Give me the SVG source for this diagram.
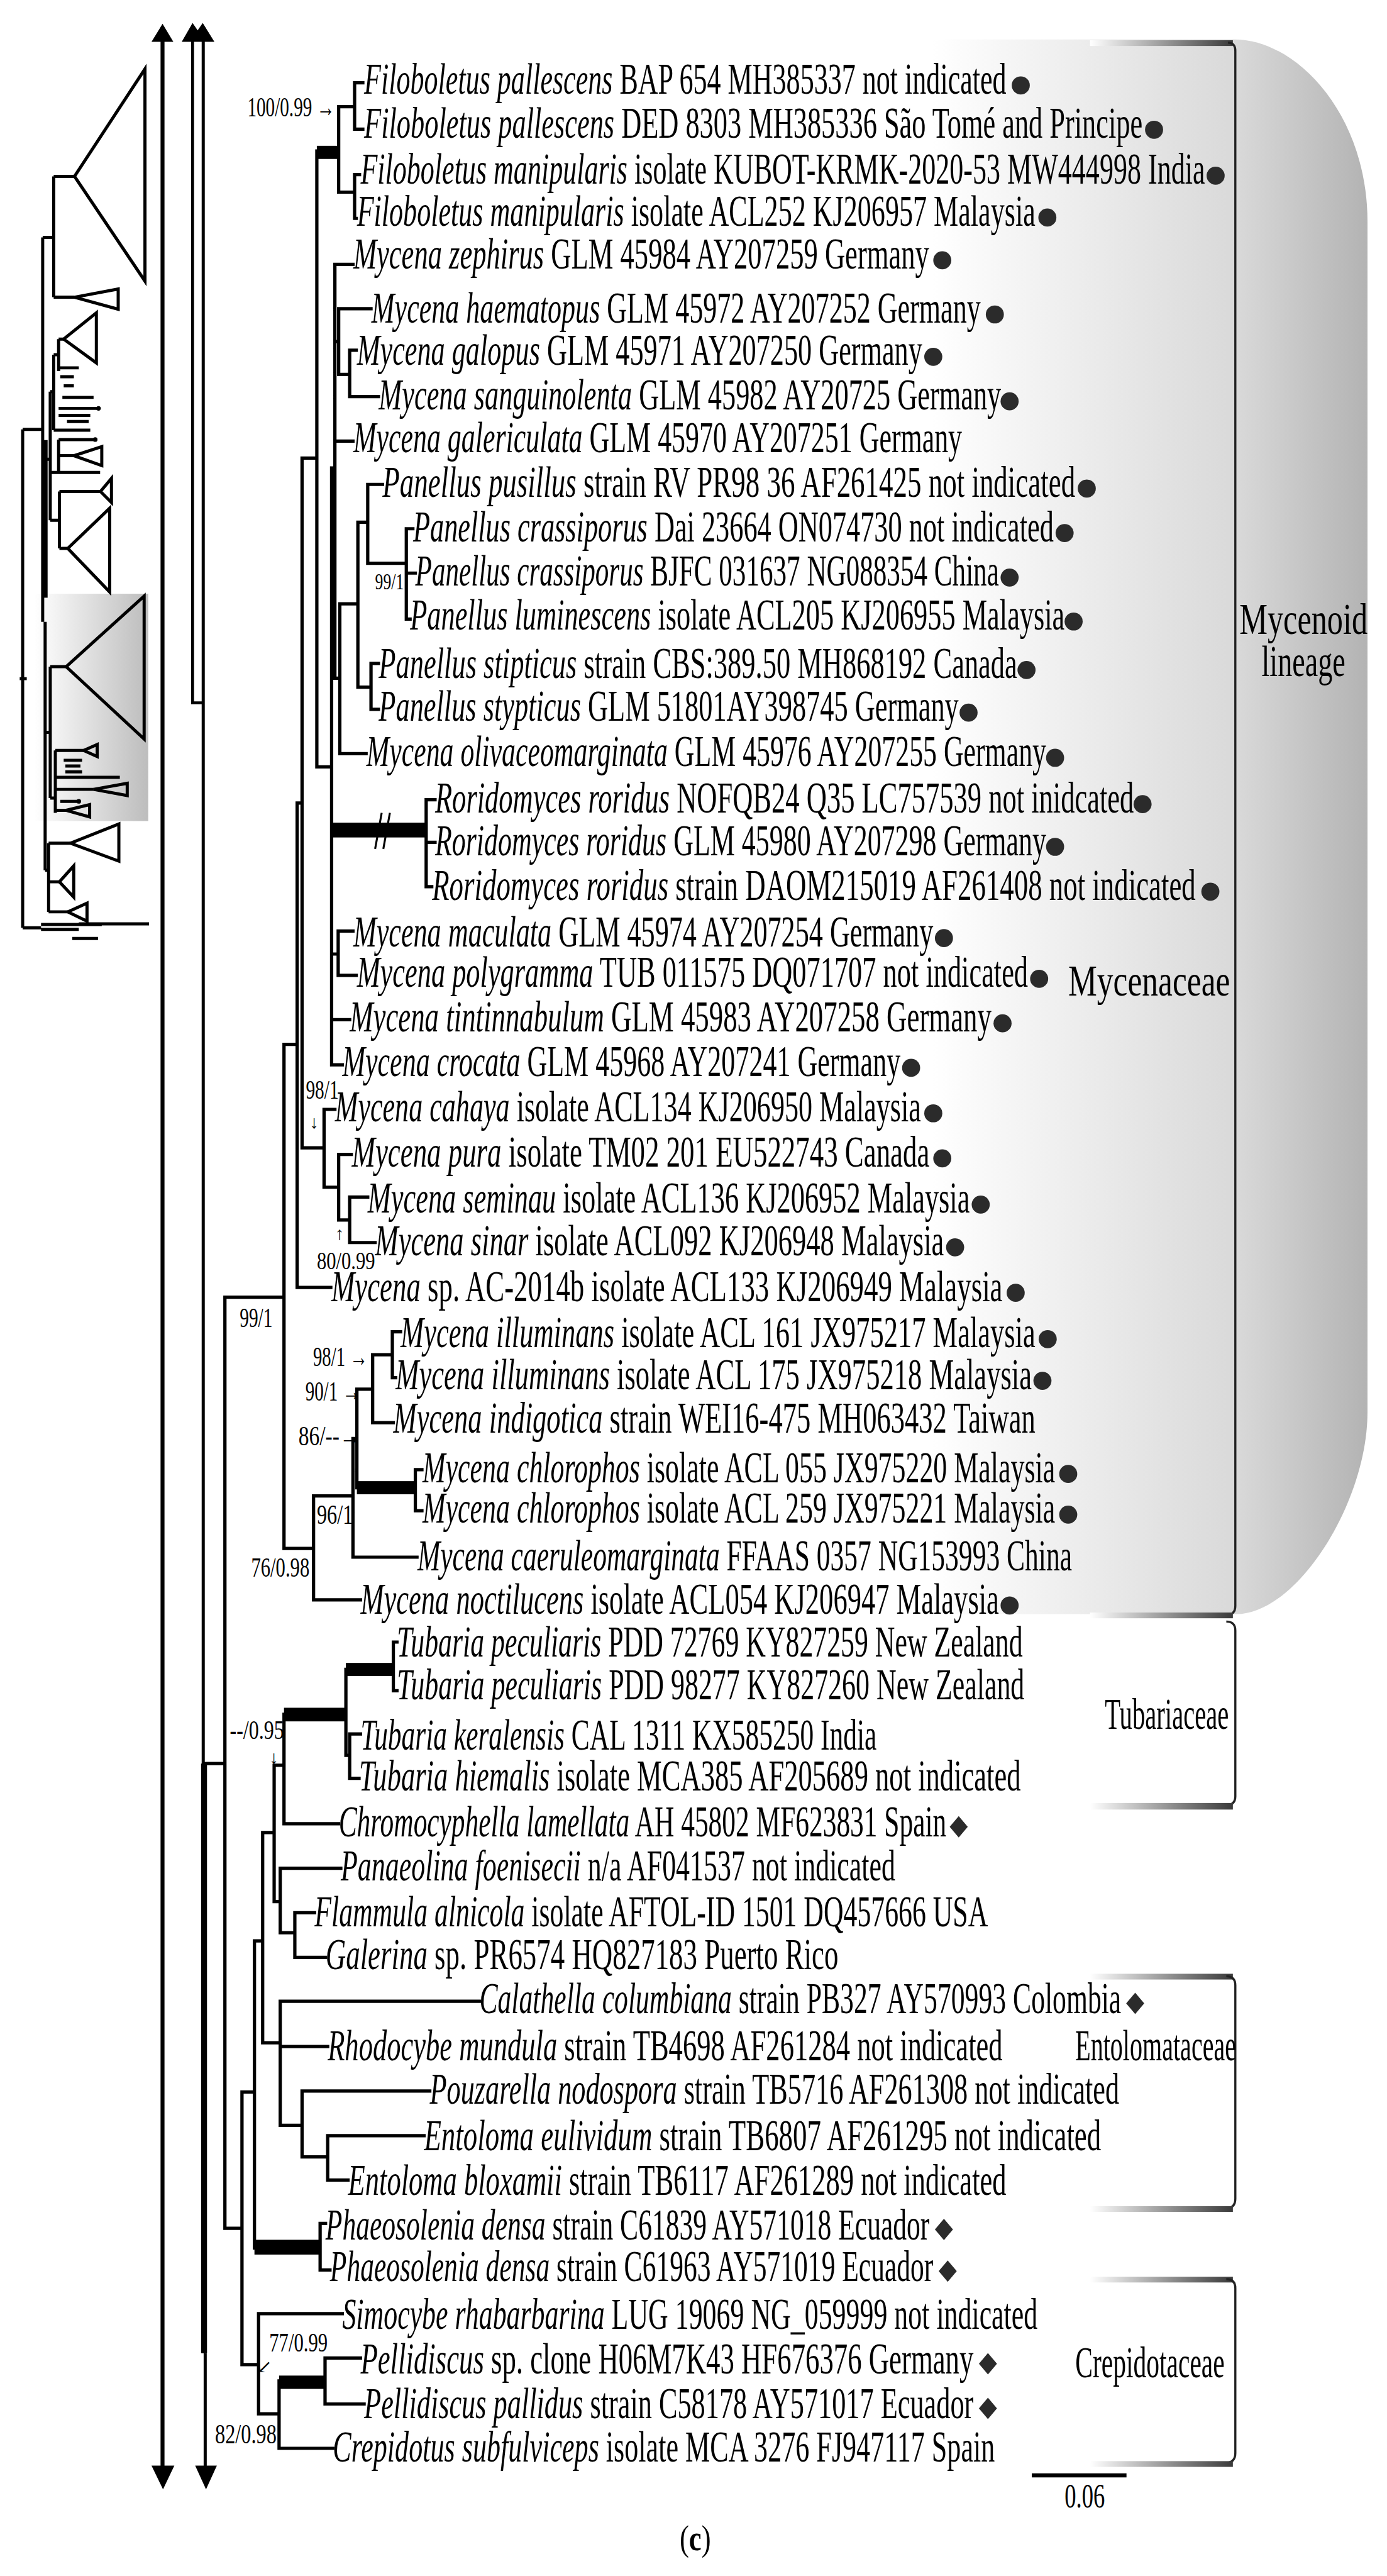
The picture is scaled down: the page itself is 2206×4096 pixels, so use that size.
<svg xmlns="http://www.w3.org/2000/svg" width="2206" height="4096" viewBox="0 0 2206 4096">
<defs>
<linearGradient id="gbox" gradientUnits="userSpaceOnUse" x1="548" y1="0" x2="833" y2="0">
<stop offset="0" stop-color="#ffffff"/><stop offset="0.07" stop-color="#ffffff"/><stop offset="0.72" stop-color="#d9d9d9"/><stop offset="1" stop-color="#b3b3b3"/>
</linearGradient>
<linearGradient id="arm" x1="0" y1="0" x2="1" y2="0"><stop offset="0" stop-color="#ffffff"/><stop offset="1" stop-color="#3a3a3a"/></linearGradient>
<linearGradient id="thumb" x1="0" y1="0" x2="1" y2="0"><stop offset="0" stop-color="#ffffff"/><stop offset="1" stop-color="#bdbdbd"/></linearGradient>
<style>
.t{font-family:"Liberation Serif","DejaVu Serif",serif;font-size:27px;fill:#000}
.i{font-style:italic}
.s{font-family:"Liberation Serif","DejaVu Serif",serif;font-size:17px;fill:#000}
.br{fill:none;stroke:#000;stroke-width:2;stroke-linecap:square}
.thk{fill:#000}
.d{fill:#2b2b2b}
.tb{fill:none;stroke:#000;stroke-width:1.9}
.cl{fill:none;stroke:#222;stroke-width:1.3}
.ar{fill:#000}
</style>
</defs>
<rect width="2206" height="4096" fill="#fff"/>
<g transform="scale(2.611)">

<!-- Mycenoid gray region -->
<path d="M 548 24 H 752 C 790 24 833 70 833 135 V 860 C 833 915 790 983 753 983 H 548 Z" fill="url(#gbox)"/>

<!-- clade brackets -->
<g id="brackets">
<rect x="664" y="24.5" width="87" height="3.5" fill="url(#arm)"/>
<path class="cl" d="M 748 26 Q 752.5 26 752.5 31 V 978 Q 752.5 983.5 747 983.5"/>
<rect x="664" y="982" width="87" height="3.5" fill="url(#arm)"/>
<path class="cl" d="M 747 987.5 Q 752.5 987.5 752.5 993 V 1094 Q 752.5 1099.5 746 1099.5"/>
<rect x="664" y="1098" width="87" height="4" fill="url(#arm)"/>
<rect x="664" y="1202" width="87" height="3.5" fill="url(#arm)"/>
<path class="cl" d="M 747 1203.5 Q 752.5 1203.5 752.5 1209 V 1339 Q 752.5 1345 746 1345"/>
<rect x="664" y="1343.5" width="87" height="3.5" fill="url(#arm)"/>
<rect x="664" y="1386.5" width="87" height="3.5" fill="url(#arm)"/>
<path class="cl" d="M 747 1388 Q 752.5 1388 752.5 1393.5 V 1494 Q 752.5 1500 746 1500"/>
<rect x="664" y="1498.8" width="87" height="3.5" fill="url(#arm)"/>
<text class="t" transform="translate(755 386) scale(0.71 1)" textLength="109.9" lengthAdjust="spacingAndGlyphs">Mycenoid</text>
<text class="t" transform="translate(768.5 411.7) scale(0.65 1)" textLength="78.5" lengthAdjust="spacingAndGlyphs">lineage</text>
<text class="t" transform="translate(650.7 606.2) scale(0.73 1)" textLength="135.1" lengthAdjust="spacingAndGlyphs">Mycenaceae</text>
<text class="t" transform="translate(673 1053) scale(0.57 1)" textLength="132.5" lengthAdjust="spacingAndGlyphs">Tubariaceae</text>
<text class="t" transform="translate(655 1254.8) scale(0.57 1)" textLength="171.9" lengthAdjust="spacingAndGlyphs">Entolomataceae</text>
<text class="t" transform="translate(655 1447.8) scale(0.59 1)" textLength="154.2" lengthAdjust="spacingAndGlyphs">Crepidotaceae</text>
</g>

<!-- thumbnail overview -->
<g id="overview">
<rect x="21" y="361.6" width="69.3" height="138.4" fill="url(#thumb)"/>
<g class="tb">
<polygon points="45.4,107.4 88.3,42 88.3,171.2"/>
<polygon points="45.4,181 72,176 72,188.3"/>
<polygon points="38.8,206.5 58.7,190.5 58.7,221"/>
<polygon points="61.2,299.3 67.9,291.3 67.9,306"/>
<polygon points="41.3,334 66.8,309.5 66.8,360.5"/>
<polygon points="40.3,406 87.8,363 87.8,450"/>
<polygon points="42.9,513.5 72.4,501.8 72.4,524.4"/>
<polygon points="36.2,537 44.9,527.3 44.9,546.3"/>
<polygon points="41.3,555.3 53,550 53,561"/>
<polygon points="51,457 59.2,453.4 59.2,460.7"/>
<polygon points="57,480.7 77.5,477 77.5,484.5"/>
<polygon points="40.3,493.5 54.6,490 54.6,497.5"/>
<polygon points="45,277.5 62,272 62,283.5"/>
<path d="M 13.8 261.5 V 565 M 12 413.3 H 16.3 M 13.8 261.5 H 26 M 26 144.6 V 378.7 M 26 144.6 H 32.7 M 32.7 107.4 V 181 M 32.7 107.4 H 45.4 M 32.7 181 H 45.4"/>
<path d="M 27 279.7 H 30.6 M 30.6 238.5 V 316.8 M 30.6 238.5 H 32.7 M 32.7 216 V 262 M 32.7 216 H 35.7 M 35.7 206.5 V 226 M 35.7 206.5 H 38.8 M 35.7 224 H 48 M 36.7 229.4 H 45 M 38.8 235 H 45 M 38 242 H 57 M 35.7 248.7 H 60 M 35.7 253 H 55 M 40.8 256.7 H 54 M 32.7 262 H 55"/>
<path d="M 30.6 287.7 H 35.7 M 35.7 267.7 V 287.7 M 35.7 267.7 H 58 M 35.7 277.5 H 45 M 35.7 287.7 H 61 M 30.6 316.8 H 36.2 M 36.2 299.3 V 334 M 36.2 299.3 H 61.2 M 36.2 334 H 41.3"/>
<path d="M 27 446 H 30.6 M 30.6 406 V 486 M 30.6 406 H 40.3 M 30.6 486 H 33.7 M 33.7 457 V 495 M 33.7 457 H 51 M 38.8 463 H 50 M 39.8 466.5 H 49 M 39.8 470 H 50 M 33.7 473.4 H 73 M 33.7 480.7 H 57 M 36.7 488 H 48 M 33.7 493.5 H 40.3"/>
<path d="M 27.5 378.7 V 530 M 27.5 530 H 29.6 M 29.6 513.5 V 555.3 M 29.6 513.5 H 42.9 M 29.6 537 H 36.2 M 29.6 555.3 H 41.3"/>
<path d="M 13.8 565 H 25 M 25 563 H 62 M 25 566 H 48 M 48 562.6 H 90.8 M 44 571.5 H 59.7"/>
</g>
<rect x="26" y="268" width="3" height="96" fill="#000"/>
<circle cx="60" cy="248.7" r="1.4" fill="#000"/>
<circle cx="58" cy="267.7" r="1.4" fill="#000"/>
<circle cx="48" cy="488" r="1.4" fill="#000"/>
</g>

<!-- axis arrows -->
<g id="arrows">
<path d="M 99 24 V 1503" stroke="#000" stroke-width="2.4" fill="none"/>
<polygon class="ar" points="99,14.5 92.3,25.5 105.6,25.5"/>
<polygon class="ar" points="99.3,1516 92.3,1501.5 106.2,1501.5"/>
<path d="M 117.3 24 V 428 H 123.8" stroke="#000" stroke-width="1.8" fill="none"/>
<path d="M 123.8 24 V 1433 M 125 1433 V 1503" stroke="#000" stroke-width="1.9" fill="none"/>
<rect x="122.5" y="1074" width="3.6" height="359" fill="#000"/>
<polygon class="ar" points="110.7,25.5 117.3,14 120.4,18.5 123.5,14 130.6,25.5"/>
<polygon class="ar" points="125.5,1516 118.9,1501.5 132.1,1501.5"/>
</g>

<!-- tree branches -->
<g id="branches">
<path class="br" d="
M 206.3 65 V 117 M 206.3 65 H 216 M 206.3 117 H 216
M 216 50.4 V 78.7 M 216 50.4 H 221 M 216 78.7 H 221
M 216 106.3 V 133 M 216 106.3 H 219 M 216 133 H 217
M 193 92 V 467 M 193 467 H 202
M 184 279 V 699 M 184 279 H 193 M 184 699 H 197.4
M 181 489 V 784 M 181 489 H 184 M 181 784 H 201.5
M 173 636 V 943 M 173 636 H 181 M 173 943 H 191
M 137 790 H 173
M 202 285 V 648.5 M 202 285 H 204
M 204 161 V 413 M 204 161 H 215 M 204 208 H 206.3 M 204 268.6 H 215 M 204 413 H 207
M 206.3 188 V 228 M 206.3 188 H 226 M 206.3 228 H 213
M 213 213.3 V 241.5 M 213 213.3 H 217 M 213 241.5 H 230.5
M 207 367.7 V 459 M 207 367.7 H 218 M 207 459 H 223
M 218 318 V 418.5 M 218 318 H 224 M 218 418.5 H 226
M 224 295 V 343 M 224 295 H 233 M 224 343 H 247.5
M 247.5 322 V 377 M 247.5 322 H 251.5 M 247.5 349 H 253 M 247.5 377 H 249.8
M 226 404 V 432 M 226 404 H 230.5 M 226 432 H 230.5
M 259.6 487 V 540 M 259.6 487 H 265 M 259.6 513 H 265 M 259.6 540 H 263
M 202 581 H 206 M 206 567 V 594 M 206 567 H 215 M 206 594 H 217
M 202 621 H 213 M 202 648.5 H 208.5
M 197.4 675.6 V 723 M 197.4 675.6 H 204 M 197.4 723 H 206.3
M 206.3 703 V 743 M 206.3 703 H 214 M 206.3 743 H 213
M 213 729 V 756.7 M 213 729 H 224 M 213 756.7 H 228.5
M 191 911 V 974.3 M 191 911 H 215 M 191 974.3 H 219.6
M 215 876 V 948.3 M 215 876 H 217.4 M 215 948.3 H 254
M 217.4 846 V 906 M 217.4 846 H 227
M 253 895 V 920 M 253 895 H 257 M 253 920 H 257
M 227 825 V 866.4 M 227 825 H 239 M 227 866.4 H 239.6
M 239 811 V 839 M 239 811 H 244 M 239 839 H 241
M 124.5 1074 H 137 M 137 790 V 1357 M 137 1357 H 147.4
M 147.4 1274 V 1440 M 147.4 1274 H 155 M 147.4 1440 H 157.5
M 155 1182 V 1369 M 155 1182 H 160
M 195 1354 V 1382.4 M 195 1354 H 198.3 M 195 1382.4 H 201
M 160 1116 V 1244 M 160 1116 H 167 M 160 1244 H 170.7
M 170.7 1218.7 V 1294.3 M 170.7 1218.7 H 292 M 170.7 1246.3 H 199.6 M 170.7 1294.3 H 184
M 184 1273.4 V 1313.5 M 184 1273.4 H 261.8 M 184 1313.5 H 199.6
M 199.6 1300.6 V 1327.6 M 199.6 1300.6 H 258.3 M 199.6 1327.6 H 212
M 167 1075 V 1158 M 167 1075 H 173 M 167 1158 H 170.7
M 173 1044 V 1110.6 M 173 1110.6 H 206.3
M 210.7 1016.6 V 1069 M 210.7 1069 H 213 M 213 1056 V 1083 M 213 1056 H 219.6 M 213 1083 H 218.7
M 239.6 1000 V 1029.6 M 239.6 1000 H 241.8 M 239.6 1029.6 H 241.8
M 170.7 1137.7 V 1177 M 170.7 1137.7 H 207.6 M 170.7 1177 H 179.6
M 179.6 1164.8 V 1192 M 179.6 1164.8 H 191.6 M 179.6 1192 H 198.3
M 157.5 1409 V 1470 M 157.5 1409 H 208.5 M 157.5 1470 H 170
M 170 1450 V 1491 M 170 1491 H 202.7
M 198 1436 V 1464 M 198 1436 H 219.6 M 198 1464 H 221.8
"/>
<rect class="thk" x="193" y="88.8" width="13.3" height="8"/>
<rect class="thk" x="202" y="501" width="57.6" height="9"/>
<path d="M 228.5 517 L 232.5 495 M 233.5 517 L 237.5 495" stroke="#000" stroke-width="1.2" fill="none"/>
<rect class="thk" x="217.4" y="902" width="35.6" height="8"/>
<rect class="thk" x="210.7" y="1012.7" width="28.9" height="8"/>
<rect class="thk" x="173" y="1040" width="37.7" height="8.3"/>
<rect class="thk" x="155" y="1364" width="40" height="9"/>
<rect class="thk" x="170" y="1446.7" width="28" height="8.1"/>
</g>

<!-- support values -->
<g id="support">
<text class="s" transform="translate(150.7 71) scale(0.66 1)" textLength="80.8" lengthAdjust="spacingAndGlyphs">100/0.99 →</text>
<text class="s" transform="translate(228.5 359) scale(0.66 1)" textLength="26.5" lengthAdjust="spacingAndGlyphs" style="font-size:14px">99/1</text>
<text class="s" transform="translate(186.3 669) scale(0.66 1)" textLength="30.3" lengthAdjust="spacingAndGlyphs" style="font-size:16px">98/1</text>
<text class="s" x="188.5" y="687" style="font-size:11px">↓</text>
<text class="s" x="204" y="755" style="font-size:11px">↑</text>
<text class="s" transform="translate(193 773) scale(0.66 1)" textLength="53.8" lengthAdjust="spacingAndGlyphs" style="font-size:15px">80/0.99</text>
<text class="s" transform="translate(146 808) scale(0.66 1)" textLength="30.3" lengthAdjust="spacingAndGlyphs">99/1</text>
<text class="s" transform="translate(190.7 832) scale(0.66 1)" textLength="50.5" lengthAdjust="spacingAndGlyphs">98/1 →</text>
<text class="s" transform="translate(186 853) scale(0.66 1)" textLength="50.9" lengthAdjust="spacingAndGlyphs">90/1 →</text>
<text class="s" transform="translate(181.8 880) scale(0.66 1)" textLength="57.3" lengthAdjust="spacingAndGlyphs">86/--→</text>
<text class="s" transform="translate(193 928) scale(0.66 1)" textLength="33.3" lengthAdjust="spacingAndGlyphs">96/1</text>
<text class="s" transform="translate(153 960) scale(0.66 1)" textLength="53.8" lengthAdjust="spacingAndGlyphs">76/0.98</text>
<text class="s" transform="translate(140 1059) scale(0.66 1)" textLength="50" lengthAdjust="spacingAndGlyphs" style="font-size:16px">--/0.95</text>
<text class="s" x="164" y="1074" style="font-size:11px">↓</text>
<text class="s" transform="translate(164 1432) scale(0.66 1)" textLength="53.9" lengthAdjust="spacingAndGlyphs" style="font-size:16px">77/0.99</text>
<text class="s" x="156.5" y="1445" style="font-size:11px">↙</text>
<text class="s" transform="translate(131 1488) scale(0.66 1)" textLength="56.8" lengthAdjust="spacingAndGlyphs">82/0.98</text>
</g>

<!-- taxa -->
<g id="n1"><text class="t" transform="translate(221.8 57) scale(0.62 1)" textLength="631" lengthAdjust="spacingAndGlyphs"><tspan class="i">Filoboletus pallescens</tspan> BAP 654 MH385337 not indicated</text><circle class="d" cx="621.8" cy="52" r="5.5"/></g>
<g id="n2"><text class="t" transform="translate(221.8 84) scale(0.62 1)" textLength="764.8" lengthAdjust="spacingAndGlyphs"><tspan class="i">Filoboletus pallescens</tspan> DED 8303 MH385336 São Tomé and Principe</text><circle class="d" cx="703" cy="79" r="5.5"/></g>
<g id="n3"><text class="t" transform="translate(219.6 112) scale(0.62 1)" textLength="829.7" lengthAdjust="spacingAndGlyphs"><tspan class="i">Filoboletus manipularis</tspan> isolate KUBOT-KRMK-2020-53 MW444998 India</text><circle class="d" cx="740.5" cy="107" r="5.5"/></g>
<g id="n4"><text class="t" transform="translate(217.4 137.5) scale(0.62 1)" textLength="666.6" lengthAdjust="spacingAndGlyphs"><tspan class="i">Filoboletus manipularis</tspan> isolate ACL252 KJ206957 Malaysia</text><circle class="d" cx="638" cy="132.5" r="5.5"/></g>
<g id="n5"><text class="t" transform="translate(215.2 163.5) scale(0.62 1)" textLength="565.8" lengthAdjust="spacingAndGlyphs"><tspan class="i">Mycena zephirus</tspan> GLM 45984 AY207259 Germany</text><circle class="d" cx="574" cy="158.5" r="5.5"/></g>
<g id="n6"><text class="t" transform="translate(226.3 196.5) scale(0.62 1)" textLength="598.5" lengthAdjust="spacingAndGlyphs"><tspan class="i">Mycena haematopus</tspan> GLM 45972 AY207252 Germany</text><circle class="d" cx="606" cy="191.5" r="5.5"/></g>
<g id="n7"><text class="t" transform="translate(217.4 222.3) scale(0.62 1)" textLength="555.5" lengthAdjust="spacingAndGlyphs"><tspan class="i">Mycena galopus</tspan> GLM 45971 AY207250 Germany</text><circle class="d" cx="568.5" cy="217.3" r="5.5"/></g>
<g id="n8"><text class="t" transform="translate(230.7 249.4) scale(0.62 1)" textLength="611.5" lengthAdjust="spacingAndGlyphs"><tspan class="i">Mycena sanguinolenta</tspan> GLM 45982 AY20725 Germany</text><circle class="d" cx="615" cy="244.4" r="5.5"/></g>
<g id="n9"><text class="t" transform="translate(215.2 275.4) scale(0.62 1)" textLength="598.1" lengthAdjust="spacingAndGlyphs"><tspan class="i">Mycena galericulata</tspan> GLM 45970 AY207251 Germany</text></g>
<g id="n10"><text class="t" transform="translate(233 302.5) scale(0.62 1)" textLength="680.6" lengthAdjust="spacingAndGlyphs"><tspan class="i">Panellus pusillus</tspan> strain RV PR98 36 AF261425 not indicated</text><circle class="d" cx="662" cy="297.5" r="5.5"/></g>
<g id="n11"><text class="t" transform="translate(251.6 329.6) scale(0.62 1)" textLength="629.4" lengthAdjust="spacingAndGlyphs"><tspan class="i">Panellus crassiporus</tspan> Dai 23664 ON074730 not indicated</text><circle class="d" cx="648.5" cy="324.6" r="5.5"/></g>
<g id="n12"><text class="t" transform="translate(253 356.7) scale(0.62 1)" textLength="573.4" lengthAdjust="spacingAndGlyphs"><tspan class="i">Panellus crassiporus</tspan> BJFC 031637 NG088354 China</text><circle class="d" cx="615" cy="351.7" r="5.5"/></g>
<g id="n13"><text class="t" transform="translate(249.8 383.5) scale(0.62 1)" textLength="643.1" lengthAdjust="spacingAndGlyphs"><tspan class="i">Panellus luminescens</tspan> isolate ACL205 KJ206955 Malaysia</text><circle class="d" cx="654" cy="378.5" r="5.5"/></g>
<g id="n14"><text class="t" transform="translate(230.7 413) scale(0.62 1)" textLength="627.3" lengthAdjust="spacingAndGlyphs"><tspan class="i">Panellus stipticus</tspan> strain CBS:389.50 MH868192 Canada</text><circle class="d" cx="625.3" cy="408" r="5.5"/></g>
<g id="n15"><text class="t" transform="translate(230.7 439) scale(0.62 1)" textLength="569.8" lengthAdjust="spacingAndGlyphs"><tspan class="i">Panellus stypticus</tspan> GLM 51801AY398745 Germany</text><circle class="d" cx="590" cy="434" r="5.5"/></g>
<g id="n16"><text class="t" transform="translate(223.2 466.5) scale(0.62 1)" textLength="667.9" lengthAdjust="spacingAndGlyphs"><tspan class="i">Mycena olivaceomarginata</tspan> GLM 45976 AY207255 Germany</text><circle class="d" cx="642.7" cy="461.5" r="5.5"/></g>
<g id="n17"><text class="t" transform="translate(265 494.7) scale(0.62 1)" textLength="686.6" lengthAdjust="spacingAndGlyphs"><tspan class="i">Roridomyces roridus</tspan> NOFQB24 Q35 LC757539 not inidcated</text><circle class="d" cx="696" cy="489.7" r="5.5"/></g>
<g id="n18"><text class="t" transform="translate(265 520.7) scale(0.62 1)" textLength="600.5" lengthAdjust="spacingAndGlyphs"><tspan class="i">Roridomyces roridus</tspan> GLM 45980 AY207298 Germany</text><circle class="d" cx="642.7" cy="515.7" r="5.5"/></g>
<g id="n19"><text class="t" transform="translate(263.2 548) scale(0.62 1)" textLength="750.3" lengthAdjust="spacingAndGlyphs"><tspan class="i">Roridomyces roridus</tspan> strain DAOM215019 AF261408 not indicated</text><circle class="d" cx="737.3" cy="543" r="5.5"/></g>
<g id="n20"><text class="t" transform="translate(215.2 576.3) scale(0.62 1)" textLength="569.8" lengthAdjust="spacingAndGlyphs"><tspan class="i">Mycena maculata</tspan> GLM 45974 AY207254 Germany</text><circle class="d" cx="575" cy="571.3" r="5.5"/></g>
<g id="n21"><text class="t" transform="translate(217.4 601.1) scale(0.62 1)" textLength="659.4" lengthAdjust="spacingAndGlyphs"><tspan class="i">Mycena polygramma</tspan> TUB 011575 DQ071707 not indicated</text><circle class="d" cx="633" cy="596.1" r="5.5"/></g>
<g id="n22"><text class="t" transform="translate(213 628.2) scale(0.62 1)" textLength="630.6" lengthAdjust="spacingAndGlyphs"><tspan class="i">Mycena tintinnabulum</tspan> GLM 45983 AY207258 Germany</text><circle class="d" cx="610.7" cy="623.2" r="5.5"/></g>
<g id="n23"><text class="t" transform="translate(208.5 655.3) scale(0.62 1)" textLength="548.4" lengthAdjust="spacingAndGlyphs"><tspan class="i">Mycena crocata</tspan> GLM 45968 AY207241 Germany</text><circle class="d" cx="555" cy="650.3" r="5.5"/></g>
<g id="n24"><text class="t" transform="translate(204 683) scale(0.62 1)" textLength="575.8" lengthAdjust="spacingAndGlyphs"><tspan class="i">Mycena cahaya</tspan> isolate ACL134 KJ206950 Malaysia</text><circle class="d" cx="568.5" cy="678" r="5.5"/></g>
<g id="n25"><text class="t" transform="translate(214.3 710.4) scale(0.62 1)" textLength="567.6" lengthAdjust="spacingAndGlyphs"><tspan class="i">Mycena pura</tspan> isolate TM02 201 EU522743 Canada</text><circle class="d" cx="574" cy="705.4" r="5.5"/></g>
<g id="n26"><text class="t" transform="translate(224 738.6) scale(0.62 1)" textLength="591.5" lengthAdjust="spacingAndGlyphs"><tspan class="i">Mycena seminau</tspan> isolate ACL136 KJ206952 Malaysia</text><circle class="d" cx="597.4" cy="733.6" r="5.5"/></g>
<g id="n27"><text class="t" transform="translate(228.5 764.6) scale(0.62 1)" textLength="558.9" lengthAdjust="spacingAndGlyphs"><tspan class="i">Mycena sinar</tspan> isolate ACL092 KJ206948 Malaysia</text><circle class="d" cx="581.8" cy="759.6" r="5.5"/></g>
<g id="n28"><text class="t" transform="translate(201.8 792.3) scale(0.62 1)" textLength="659.5" lengthAdjust="spacingAndGlyphs"><tspan class="i">Mycena</tspan> sp. AC-2014b isolate ACL133 KJ206949 Malaysia</text><circle class="d" cx="618.7" cy="787.3" r="5.5"/></g>
<g id="n29"><text class="t" transform="translate(244 820.5) scale(0.62 1)" textLength="623.7" lengthAdjust="spacingAndGlyphs"><tspan class="i">Mycena illuminans</tspan> isolate ACL 161 JX975217 Malaysia</text><circle class="d" cx="638.2" cy="815.5" r="5.5"/></g>
<g id="n30"><text class="t" transform="translate(241 845.9) scale(0.62 1)" textLength="625" lengthAdjust="spacingAndGlyphs"><tspan class="i">Mycena illuminans</tspan> isolate ACL 175 JX975218 Malaysia</text><circle class="d" cx="635" cy="840.9" r="5.5"/></g>
<g id="n31"><text class="t" transform="translate(239.6 872.4) scale(0.62 1)" textLength="630.8" lengthAdjust="spacingAndGlyphs"><tspan class="i">Mycena indigotica</tspan> strain WEI16-475 MH063432 Taiwan</text></g>
<g id="n32"><text class="t" transform="translate(257.4 902.6) scale(0.62 1)" textLength="621.5" lengthAdjust="spacingAndGlyphs"><tspan class="i">Mycena chlorophos</tspan> isolate ACL 055 JX975220 Malaysia</text><circle class="d" cx="650.7" cy="897.6" r="5.5"/></g>
<g id="n33"><text class="t" transform="translate(257.4 927.4) scale(0.62 1)" textLength="621.5" lengthAdjust="spacingAndGlyphs"><tspan class="i">Mycena chlorophos</tspan> isolate ACL 259 JX975221 Malaysia</text><circle class="d" cx="650.7" cy="922.4" r="5.5"/></g>
<g id="n34"><text class="t" transform="translate(254.3 956.2) scale(0.62 1)" textLength="643.1" lengthAdjust="spacingAndGlyphs"><tspan class="i">Mycena caeruleomarginata</tspan> FFAAS 0357 NG153993 China</text></g>
<g id="n35"><text class="t" transform="translate(219.6 982.7) scale(0.62 1)" textLength="627.3" lengthAdjust="spacingAndGlyphs"><tspan class="i">Mycena noctilucens</tspan> isolate ACL054 KJ206947 Malaysia</text><circle class="d" cx="615" cy="977.7" r="5.5"/></g>
<g id="n36"><text class="t" transform="translate(241.8 1008.7) scale(0.62 1)" textLength="614.8" lengthAdjust="spacingAndGlyphs"><tspan class="i">Tubaria peculiaris</tspan> PDD 72769 KY827259 New Zealand</text></g>
<g id="n37"><text class="t" transform="translate(241.8 1034.7) scale(0.62 1)" textLength="616.5" lengthAdjust="spacingAndGlyphs"><tspan class="i">Tubaria peculiaris</tspan> PDD 98277 KY827260 New Zealand</text></g>
<g id="n38"><text class="t" transform="translate(219.6 1065.4) scale(0.62 1)" textLength="507.1" lengthAdjust="spacingAndGlyphs"><tspan class="i">Tubaria keralensis</tspan> CAL 1311 KX585250 India</text></g>
<g id="n39"><text class="t" transform="translate(218.7 1090.3) scale(0.62 1)" textLength="650.2" lengthAdjust="spacingAndGlyphs"><tspan class="i">Tubaria hiemalis</tspan> isolate MCA385 AF205689 not indicated</text></g>
<g id="n40"><text class="t" transform="translate(206.3 1118.5) scale(0.62 1)" textLength="597.1" lengthAdjust="spacingAndGlyphs"><tspan class="i">Chromocyphella lamellata</tspan> AH 45802 MF623831 Spain</text><path class="d" d="M 584 1106 l 5.5 6.5 l -5.5 6.5 l -5.5 -6.5 z"/></g>
<g id="n41"><text class="t" transform="translate(207.6 1145) scale(0.62 1)" textLength="544.8" lengthAdjust="spacingAndGlyphs"><tspan class="i">Panaeolina foenisecii</tspan> n/a AF041537 not indicated</text></g>
<g id="n42"><text class="t" transform="translate(191.6 1173.2) scale(0.62 1)" textLength="661.6" lengthAdjust="spacingAndGlyphs"><tspan class="i">Flammula alnicola</tspan> isolate AFTOL-ID 1501 DQ457666 USA</text></g>
<g id="n43"><text class="t" transform="translate(198.3 1199.2) scale(0.62 1)" textLength="503.9" lengthAdjust="spacingAndGlyphs"><tspan class="i">Galerina</tspan> sp. PR6574 HQ827183 Puerto Rico</text></g>
<g id="n44"><text class="t" transform="translate(292 1226) scale(0.62 1)" textLength="630.6" lengthAdjust="spacingAndGlyphs"><tspan class="i">Calathella columbiana</tspan> strain PB327 AY570993 Colombia</text><path class="d" d="M 691.5 1213.5 l 5.5 6.5 l -5.5 6.5 l -5.5 -6.5 z"/></g>
<g id="n45"><text class="t" transform="translate(199.6 1254.8) scale(0.62 1)" textLength="663.1" lengthAdjust="spacingAndGlyphs"><tspan class="i">Rhodocybe mundula</tspan> strain TB4698 AF261284 not indicated</text></g>
<g id="n46"><text class="t" transform="translate(261.8 1281.3) scale(0.62 1)" textLength="677.4" lengthAdjust="spacingAndGlyphs"><tspan class="i">Pouzarella nodospora</tspan> strain TB5716 AF261308 not indicated</text></g>
<g id="n47"><text class="t" transform="translate(258.3 1309.5) scale(0.62 1)" textLength="665.2" lengthAdjust="spacingAndGlyphs"><tspan class="i">Entoloma eulividum</tspan> strain TB6807 AF261295 not indicated</text></g>
<g id="n48"><text class="t" transform="translate(212 1336.6) scale(0.62 1)" textLength="646.8" lengthAdjust="spacingAndGlyphs"><tspan class="i">Entoloma bloxamii</tspan> strain TB6117 AF261289 not indicated</text></g>
<g id="n49"><text class="t" transform="translate(198.3 1363.7) scale(0.62 1)" textLength="593.4" lengthAdjust="spacingAndGlyphs"><tspan class="i">Phaeosolenia densa</tspan> strain C61839 AY571018 Ecuador</text><path class="d" d="M 575 1351.2 l 5.5 6.5 l -5.5 6.5 l -5.5 -6.5 z"/></g>
<g id="n50"><text class="t" transform="translate(201 1389.1) scale(0.62 1)" textLength="592.7" lengthAdjust="spacingAndGlyphs"><tspan class="i">Phaeosolenia densa</tspan> strain C61963 AY571019 Ecuador</text><path class="d" d="M 577.3 1376.6 l 5.5 6.5 l -5.5 6.5 l -5.5 -6.5 z"/></g>
<g id="n51"><text class="t" transform="translate(208.5 1418.4) scale(0.62 1)" textLength="683.1" lengthAdjust="spacingAndGlyphs"><tspan class="i">Simocybe rhabarbarina</tspan> LUG 19069 NG_059999 not indicated</text></g>
<g id="n52"><text class="t" transform="translate(219.6 1445.5) scale(0.62 1)" textLength="602.3" lengthAdjust="spacingAndGlyphs"><tspan class="i">Pellidiscus</tspan> sp. clone H06M7K43 HF676376 Germany</text><path class="d" d="M 601.8 1433 l 5.5 6.5 l -5.5 6.5 l -5.5 -6.5 z"/></g>
<g id="n53"><text class="t" transform="translate(221.8 1472.7) scale(0.62 1)" textLength="598.7" lengthAdjust="spacingAndGlyphs"><tspan class="i">Pellidiscus pallidus</tspan> strain C58178 AY571017 Ecuador</text><path class="d" d="M 601.8 1460.2 l 5.5 6.5 l -5.5 6.5 l -5.5 -6.5 z"/></g>
<g id="n54"><text class="t" transform="translate(202.7 1499.2) scale(0.62 1)" textLength="650.5" lengthAdjust="spacingAndGlyphs"><tspan class="i">Crepidotus subfulviceps</tspan> isolate MCA 3276 FJ947117 Spain</text></g>

<!-- scale bar and panel letter -->
<g id="scale">
<path d="M 628.5 1507.5 H 686.2" stroke="#000" stroke-width="2.5"/>
<text class="s" transform="translate(648.5 1527) scale(0.67 1)" textLength="36.6" lengthAdjust="spacingAndGlyphs" style="font-size:21px">0.06</text>
</g>
<g id="panel"><text class="t" transform="translate(414 1553) scale(0.78 1)" textLength="24.4" lengthAdjust="spacingAndGlyphs" style="font-size:22px">(<tspan font-weight="bold">c</tspan>)</text></g>
</g>
</svg>
